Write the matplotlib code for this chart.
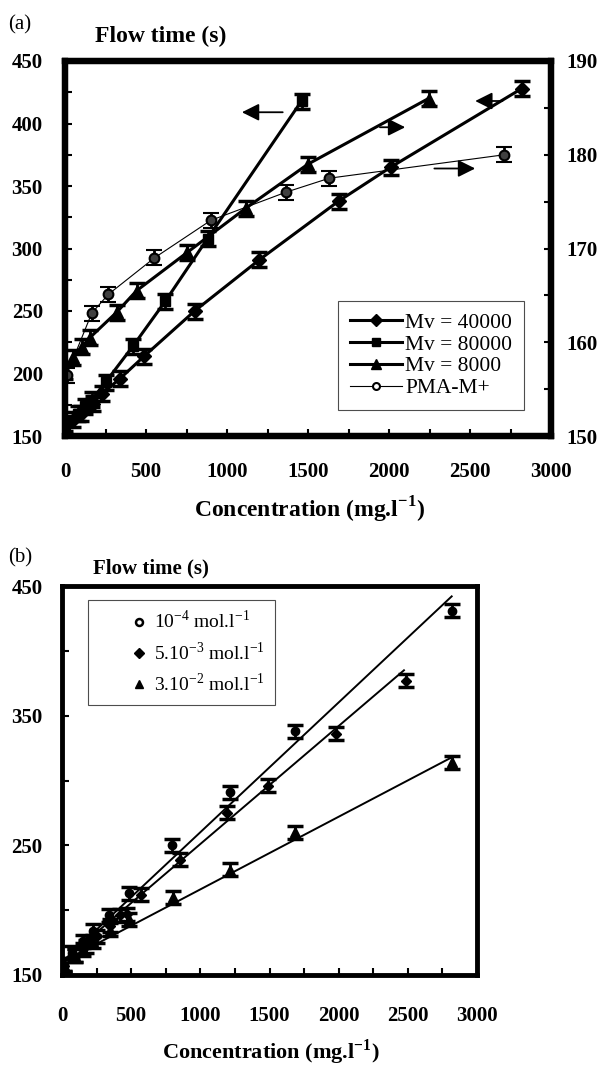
import matplotlib
matplotlib.use("Agg")
import matplotlib.pyplot as plt
from matplotlib.ticker import MultipleLocator
from matplotlib.lines import Line2D

plt.rcParams["font.family"] = ["Liberation Serif", "DejaVu Serif"]
plt.rcParams["mathtext.fontset"] = "custom"
plt.rcParams["mathtext.rm"] = "Liberation Serif"
plt.rcParams["mathtext.bf"] = "Liberation Serif:bold"

# ---- panel (a), left axis (flow time, s)
mv40_x = [0, 50, 100, 170, 230, 340, 490, 800, 1200, 1690, 2010, 2820]
mv40_y = [158, 163, 168, 176, 184, 196, 214, 250, 291, 338, 365, 428]
mv80_x = [0, 80, 125, 165, 250, 420, 620, 880, 1460]
mv80_y = [160, 168, 174, 179, 193, 222, 258, 308, 418]
# ---- panel (a), right axis
mv8_x = [0, 51, 103, 154, 319, 442, 756, 1116, 1500, 2244]
mv8_y = [156.9, 158.4, 159.5, 160.5, 163.2, 165.5, 169.6, 174.3, 179.0, 186.0]
pma_x = [10, 165, 267, 552, 900, 1363, 1632, 2712]
pma_y = [156.5, 163.1, 165.1, 169.0, 173.0, 176.0, 177.5, 180.0]
err_left = 6
err_right = 0.8

# arrows (tail x, head x, y on left scale)
arrows = [(1344, 1092, 409), (1944, 2100, 397), (2280, 2532, 364), (2700, 2532, 418)]

# ---- panel (b)
c4_x = [14, 69, 153, 222, 339, 481, 797, 1214, 1681, 2820]
c4_y = [158, 167, 176, 184, 196, 213, 250, 291, 338, 431]
c3_x = [14, 97, 170, 250, 347, 420, 470, 569, 853, 1194, 1492, 1981, 2486]
c3_y = [157, 165, 172, 180, 188, 196, 197, 212, 239, 275, 296, 336, 377]
c2_x = [14, 97, 153, 222, 347, 486, 806, 1214, 1681, 2820]
c2_y = [158, 165, 170, 176, 185, 193, 210, 231, 260, 314]
err_b = 5
fit4 = ([0, 2817], [160, 442])
fit3 = ([0, 2472], [160, 385])
fit2 = ([0, 2820], [160, 318])
b_yticks = [150, 250, 350, 450]

fig = plt.figure(figsize=(6.06, 10.66), dpi=100)

# ================= panel (a)
ax = fig.add_axes([65 / 606, 1 - 436 / 1066, 486 / 606, 375 / 1066])
axr = ax.twinx()
ekw = dict(ecolor="k", elinewidth=2, capsize=6, capthick=2.5, color="k")
ax.errorbar(mv40_x, mv40_y, yerr=err_left, marker="D", ms=7, lw=2.2, **ekw)
ax.errorbar(mv80_x, mv80_y, yerr=err_left, marker="s", ms=7, lw=2.2, **ekw)
axr.errorbar(mv8_x, mv8_y, yerr=err_right, marker="^", ms=9, lw=2.2, **ekw)
axr.errorbar(pma_x, pma_y, yerr=err_right, marker="o", ms=7, lw=0.8,
             mfc="0.25", mec="k", mew=1.5, **ekw)

for tail, head, y in arrows:
    ax.annotate("", xy=(head, y), xytext=(tail, y),
                arrowprops=dict(arrowstyle="-|>", color="k", lw=1.3,
                                mutation_scale=26, shrinkA=0, shrinkB=0))

ax.set_xlim(0, 3000)
ax.set_ylim(150, 450)
axr.set_ylim(150, 190)
ax.xaxis.set_major_locator(MultipleLocator(500))
ax.xaxis.set_minor_locator(MultipleLocator(250))
ax.yaxis.set_major_locator(MultipleLocator(50))
ax.yaxis.set_minor_locator(MultipleLocator(25))
axr.yaxis.set_major_locator(MultipleLocator(10))
axr.yaxis.set_minor_locator(MultipleLocator(5))
for a in (ax, axr):
    a.tick_params(which="both", direction="in", length=5, width=1.5, top=False)
    for s in a.spines.values():
        s.set_linewidth(4.5)
ax.tick_params(axis="y", which="both", right=False, pad=16)
ax.tick_params(axis="x", pad=19)
axr.tick_params(axis="y", which="both", left=False, pad=11)
for lab in ax.get_xticklabels() + ax.get_yticklabels() + axr.get_yticklabels():
    lab.set_fontweight("bold")
    lab.set_fontsize(15)

hands = [
    Line2D([], [], color="k", lw=2.2, marker="D", ms=6),
    Line2D([], [], color="k", lw=2.2, marker="s", ms=6),
    Line2D([], [], color="k", lw=2.2, marker="^", ms=7),
    Line2D([], [], color="k", lw=0.8, marker="o", ms=5, mfc="white", mew=1.5),
]
leg = ax.legend(hands, ["Mv = 40000", "Mv = 80000", "Mv = 8000", "PMA-M+"],
                loc="lower right", bbox_to_anchor=(0.944, 0.069), fontsize=15.5,
                handlelength=2.4, handletextpad=0.15, labelspacing=0.08,
                borderpad=0.55, borderaxespad=0, fancybox=False, framealpha=1,
                edgecolor="0.3")
leg.get_frame().set_linewidth(0.8)
leg.set_zorder(5)

fig.text(8 / 606, 1 - 25 / 1066, "(a)", fontsize=15, va="center", ha="left")
fig.text(95 / 606, 1 - 36 / 1066, "Flow time (s)", fontsize=17, fontweight="bold",
         va="center", ha="left")
fig.text(309 / 606, 1 - 510 / 1066, r"Concentration (mg.l$^{\mathbf{-1}}$)", fontsize=17,
         fontweight="bold", va="center", ha="center")

# ================= panel (b)
bx = fig.add_axes([62 / 606, 1 - 975 / 1066, 415 / 606, 389 / 1066])
bkw = dict(ecolor="k", elinewidth=2, capsize=6, capthick=2.5, ls="none", color="k")
bx.plot(*fit4, color="k", lw=1.4)
bx.plot(*fit3, color="k", lw=1.4)
bx.plot(*fit2, color="k", lw=1.4)
bx.errorbar(c4_x, c4_y, yerr=err_b, marker="o", ms=6, **bkw)
bx.errorbar(c3_x, c3_y, yerr=err_b, marker="D", ms=5.5, **bkw)
bx.errorbar(c2_x, c2_y, yerr=err_b, marker="^", ms=7, **bkw)

bx.set_xlim(0, 3000)
bx.set_ylim(150, 450)
bx.xaxis.set_major_locator(MultipleLocator(500))
bx.xaxis.set_minor_locator(MultipleLocator(250))
bx.set_yticks(b_yticks)
bx.yaxis.set_minor_locator(MultipleLocator(50))
bx.tick_params(which="both", direction="in", length=5, width=1.5, top=False, right=False)
bx.tick_params(axis="y", pad=14)
bx.tick_params(axis="x", pad=22)
for s in bx.spines.values():
    s.set_linewidth(3.5)
for lab in bx.get_xticklabels() + bx.get_yticklabels():
    lab.set_fontweight("bold")
    lab.set_fontsize(15)

bh = [
    Line2D([], [], ls="none", color="k", marker="o", ms=5, mfc="white", mew=1.8),
    Line2D([], [], ls="none", color="k", marker="D", ms=5),
    Line2D([], [], ls="none", color="k", marker="^", ms=6),
]
bleg = bx.legend(bh, [r"10$^{-4}$ mol.l$^{-1}$", r"5.10$^{-3}$ mol.l$^{-1}$",
                      r"3.10$^{-2}$ mol.l$^{-1}$"],
                 loc="upper left", bbox_to_anchor=(0.063, 0.964), fontsize=14,
                 handlelength=4.2, handletextpad=-1.3, labelspacing=0.45,
                 borderpad=0.5, borderaxespad=0, fancybox=False, framealpha=1,
                 edgecolor="0.3")
bleg.get_frame().set_linewidth(0.8)

fig.text(8 / 606, 1 - 558 / 1066, "(b)", fontsize=15, va="center", ha="left")
fig.text(93 / 606, 1 - 568 / 1066, "Flow time (s)", fontsize=15, fontweight="bold",
         va="center", ha="left")
fig.text(271 / 606, 1 - 1052 / 1066, r"Concentration (mg.l$^{\mathbf{-1}}$)", fontsize=16,
         fontweight="bold", va="center", ha="center")

fig.savefig("out.png", dpi=100)
